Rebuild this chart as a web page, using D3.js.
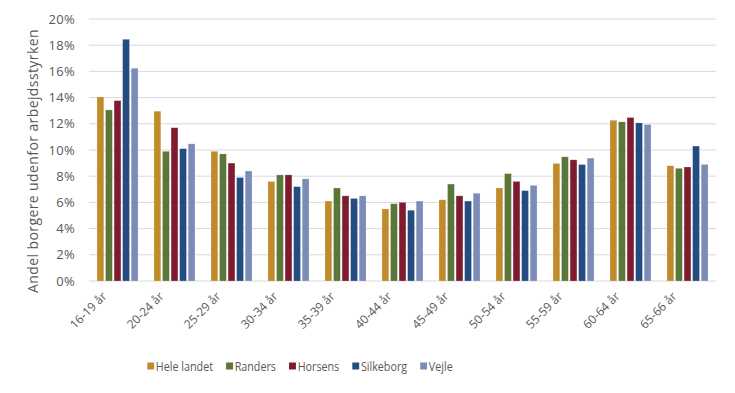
<!DOCTYPE html>
<html>
<head>
<meta charset="utf-8">
<script src="https://cdn.jsdelivr.net/npm/d3@7"></script>
<style>
  body { margin: 0; background: #fff; }
  text { font-family: "Open Sans", sans-serif; fill: #595959; }
</style>
</head>
<body>
<svg id="chart" width="735" height="393"></svg>
<script>
// data
const ageGroups = ["16-19 år", "20-24 år", "25-29 år", "30-34 år", "35-39 år", "40-44 år",
  "45-49 år", "50-54 år", "55-59 år", "60-64 år", "65-66 år"];
const seriesNames = ["Hele landet", "Randers", "Horsens", "Silkeborg", "Vejle"];
const heleLandet = [14.05, 12.96, 9.9, 7.6, 6.1, 5.5, 6.2, 7.1, 8.97, 12.27, 8.8];
const randers = [13.06, 9.9, 9.7, 8.1, 7.1, 5.9, 7.4, 8.2, 9.48, 12.15, 8.6];
const horsens = [13.77, 11.7, 9.0, 8.1, 6.5, 6.0, 6.5, 7.6, 9.25, 12.48, 8.7];
const silkeborg = [18.45, 10.1, 7.9, 7.2, 6.3, 5.4, 6.1, 6.9, 8.89, 12.07, 10.3];
const vejle = [16.24, 10.47, 8.4, 7.8, 6.5, 6.1, 6.7, 7.3, 9.38, 11.94, 8.9];
const yTicks = [0, 2, 4, 6, 8, 10, 12, 14, 16, 18, 20];
const colors = ["#C08B2A", "#5A7638", "#7E1B2F", "#244C80", "#7B8CB7"];

const allSeries = [heleLandet, randers, horsens, silkeborg, vejle];

const svg = d3.select("#chart");
const margin = { top: 19, left: 89, bottom: 112, right: 19 };
const width = 735, height = 393;

const x0 = d3.scaleBand()
  .domain(ageGroups)
  .range([margin.left, width - margin.right])
  .paddingInner(0.28)
  .paddingOuter(0.14);

const x1 = d3.scaleBand()
  .domain(seriesNames)
  .range([0, x0.bandwidth()])
  .paddingInner(0.2);

const y = d3.scaleLinear().domain([0, 20]).range([height - margin.bottom, margin.top]);

// grid
svg.append("g")
  .selectAll("line")
  .data(yTicks)
  .join("line")
  .attr("x1", margin.left)
  .attr("x2", width - margin.right)
  .attr("y1", d => y(d))
  .attr("y2", d => y(d))
  .attr("stroke", "#d9d9d9")
  .attr("stroke-width", 1);

// y axis labels
const yAxis = d3.axisLeft(y).tickValues(yTicks).tickFormat(d => d + "%").tickSize(0).tickPadding(14);
svg.append("g")
  .attr("transform", `translate(${margin.left},0)`)
  .call(yAxis)
  .call(g => g.select(".domain").remove())
  .selectAll("text")
  .attr("font-size", "13px")
  .attr("letter-spacing", "0.3px")
  .style("font-family", "Open Sans, sans-serif")
  .attr("fill", "#595959");

// bars
const groups = svg.append("g")
  .selectAll("g")
  .data(ageGroups)
  .join("g")
  .attr("transform", d => `translate(${x0(d)},0)`);

groups.selectAll("rect")
  .data((d, i) => seriesNames.map((s, j) => ({ s: s, j: j, v: allSeries[j][i] })))
  .join("rect")
  .attr("x", d => x1(d.s))
  .attr("y", d => y(d.v))
  .attr("width", x1.bandwidth())
  .attr("height", d => y(0) - y(d.v))
  .attr("fill", d => colors[d.j])
  .attr("stroke", "rgba(255,255,255,0.35)")
  .attr("stroke-width", 0.6);

// x labels
svg.append("g")
  .selectAll("text")
  .data(ageGroups)
  .join("text")
  .attr("text-anchor", "end")
  .attr("font-size", "12px")
  .attr("transform", d => `translate(${x0(d) + x0.bandwidth() / 2 - 10},${y(0) + 16}) rotate(-45)`)
  .text(d => d);

// y title
svg.append("text")
  .attr("text-anchor", "middle")
  .attr("font-size", "14px")
  .attr("letter-spacing", "0.4px")
  .attr("transform", `translate(38,${(y(0) + y(20)) / 2 + 11}) rotate(-90)`)
  .text("Andel borgere udenfor arbejdsstyrken");

// legend: laid out by measured text widths, squeezed a bit horizontally like the reference
const squeeze = 0.86;
const legend = svg.append("g").attr("transform", "translate(0,366)");
const items = legend.selectAll("g")
  .data(seriesNames)
  .join("g");

items.append("rect")
  .attr("x", 0)
  .attr("y", -3.5)
  .attr("width", 8)
  .attr("height", 7)
  .attr("fill", (d, i) => colors[i]);

items.append("text")
  .attr("x", 10)
  .attr("y", 4.5)
  .attr("font-size", "12.5px")
  .text(d => d);

let pos = 0;
const offsets = [];
items.each(function () {
  offsets.push(pos);
  pos += (10 + d3.select(this).select("text").node().getComputedTextLength()) * squeeze + 13;
});
const total = pos - 13;
const start = 300 - total / 2;
items.attr("transform", (d, i) => `translate(${start + offsets[i]},0) scale(${squeeze},1)`);
</script>
</body>
</html>
